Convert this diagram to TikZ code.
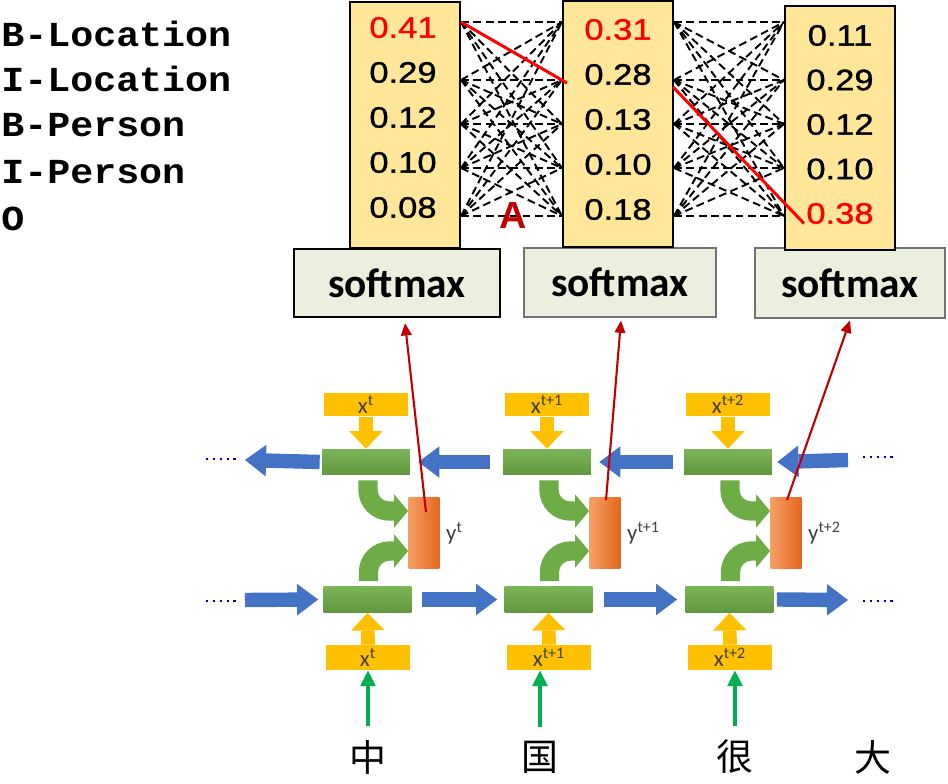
\documentclass[tikz,border=0pt]{standalone}
\usepackage{fontspec}
\setmainfont{Liberation Sans}
\newfontfamily\tagfont[FakeStretch=1.09]{Liberation Mono}
\newfontfamily\numfont[FakeStretch=1.17, FakeBold=1.2]{Liberation Sans}
\newfontfamily\calfont{Carlito}
\newfontfamily\cjkfont{Noto Sans CJK SC}
\usetikzlibrary{
    arrows.meta,
    positioning,
    calc
}

\definecolor{probfill}{HTML}{FFE699}
\definecolor{smfill}{HTML}{EBEFDE}
\definecolor{hotred}{HTML}{FF0000}
\definecolor{darkred}{HTML}{C00000}
\definecolor{inyellow}{HTML}{FFC000}
\definecolor{cellgreen}{HTML}{6EAC46}
\definecolor{flowblue}{HTML}{4472C4}
\definecolor{inputgreen}{HTML}{00B050}
\definecolor{outlight}{HTML}{F5A066}
\definecolor{outdark}{HTML}{E4661C}

\tikzset{
    tag/.style={anchor=west, inner sep=0pt, font=\tagfont\bfseries\fontsize{20}{22}\selectfont},
    val/.style={inner sep=0pt, font=\numfont\fontsize{16.8}{18}\selectfont},
    probbox/.style={draw, line width=1.2pt, fill=probfill, inner sep=0pt, minimum width=2.2cm},
    smbox/.style={fill=smfill, inner sep=0pt, font=\calfont\bfseries\fontsize{23.5}{26}\selectfont},
    dashline/.style={line width=1.1pt, dash pattern=on 4.5pt off 2.5pt},
    hotline/.style={draw=hotred, line width=1.7pt},
    xbox/.style={fill=inyellow, inner sep=0pt, minimum width=1.7cm, minimum height=0.47cm,
        text=black!75, font=\calfont\fontsize{13}{14}\selectfont},
    bar/.style={top color=cellgreen!90!white, bottom color=cellgreen!88!black,
        minimum width=1.76cm, minimum height=0.52cm, inner sep=0pt},
    outbox/.style={left color=outlight, right color=outdark,
        minimum width=0.62cm, minimum height=1.44cm, inner sep=0pt},
    ylab/.style={inner sep=0pt, text=black!75, font=\calfont\fontsize{13}{14}\selectfont},
    fatblue/.style={draw=flowblue, line width=8.2pt, -{Triangle[length=12pt, width=18pt, line width=0pt]}},
    fatyellow/.style={draw=inyellow, line width=7.8pt, -{Triangle[length=10pt, width=19pt, line width=0pt]}},
    bendgreen/.style={draw=cellgreen, line width=11pt, rounded corners=12pt,
        -{Triangle[length=8pt, width=19pt, line width=0pt]}},
    dots/.style={draw=blue!70!black, line width=1.3pt, dash pattern=on 1.3pt off 2.6pt},
    redarrow/.style={draw=darkred, line width=1.2pt, -{Triangle[length=7pt, width=6pt]}},
    inarrow/.style={draw=inputgreen, line width=1.8pt, -{Triangle[length=9pt, width=8.5pt]}},
    word/.style={inner sep=0pt, font=\cjkfont\fontsize{21}{22}\selectfont}
}

\begin{document}
\begin{tikzpicture}[x=0.02cm, y=-0.02cm]

\useasboundingbox (0,0) rectangle (948,784);

% Tags
\node[tag] (tag1) at (1,33.5) {B-Location};
\node[tag] (tag2) at (1,78.5) {I-Location};
\node[tag] (tag3) at (1,125) {B-Person};
\node[tag] (tag4) at (1,172) {I-Person};
\node[tag] (tag5) at (1,219) {O};

% Softmax layers
\node[smbox, draw, line width=1.3pt, minimum width=4.12cm, minimum height=1.36cm] (s1) at (397,283) {softmax};
\node[smbox, draw=black!55, line width=0.6pt, minimum width=3.84cm, minimum height=1.38cm] (s2) at (620,282.5) {softmax};
\node[smbox, draw=black!55, line width=0.6pt, minimum width=3.8cm, minimum height=1.4cm] (s3) at (850,283) {softmax};

% Score columns
\node[probbox, minimum height=4.92cm] (p1) at (405,125) {};
\node[probbox, minimum height=4.92cm] (p2) at (618,124) {};
\node[probbox, minimum height=4.88cm] (p3) at (840,128) {};

% Transitions
\foreach \r/\yy in {1/22,2/80,3/124,4/168,5/216} {
    \coordinate (a\r) at (p1.east |- 0,\yy);
    \coordinate (b\r) at (p2.west |- 0,\yy);
    \coordinate (c\r) at (p2.east |- 0,\yy);
    \coordinate (d\r) at (p3.west |- 0,\yy);
}
\foreach \i in {1,...,5}
    \foreach \j in {1,...,5} {
        \draw[dashline] (a\i) -- (b\j);
        \draw[dashline] (c\i) -- (d\j);
    }

% Scores
\foreach \v/\col [count=\i] in {0.41/hotred,0.29/black,0.12/black,0.10/black,0.08/black}
    \node[val, text=\col] (v1\i) at (403,{27.5+45*(\i-1)}) {\v};
\foreach \v/\col [count=\i] in {0.31/hotred,0.28/black,0.13/black,0.10/black,0.18/black}
    \node[val, text=\col] (v2\i) at (618,{29.5+45*(\i-1)}) {\v};
\foreach \v/\col [count=\i] in {0.11/black,0.29/black,0.12/black,0.10/black,0.38/hotred}
    \node[val, text=\col] (v3\i) at (840,{35.5+44.5*(\i-1)}) {\v};

% Best path
\draw[hotline] (a1) -- ([shift={(5,3)}]b2);
\draw[hotline] ([shift={(-1,7)}]c2) -- ([shift={(-2,10)}]v35.west);
\node[inner sep=0pt, text=darkred, font=\bfseries\fontsize{21.5}{22}\selectfont] (mark) at (513,216) {A};

% BiLSTM cells
\foreach \c/\cx/\tsup in {1/366/t,2/547/t+1,3/728/t+2} {
    \node[xbox] (xt\c) at (\cx,404.5) {x\textsuperscript{\tsup}};
    \node[bar] (ht\c) at (\cx,462) {};
    \node[bar] (hb\c) at (\cx+1.5,599.5) {};
    \node[xbox, minimum height=0.5cm] (xb\c) at (\cx+2,657.5) {x\textsuperscript{\tsup}};
    \node[outbox] (y\c) at (\cx+58,533) {};
    \node[ylab, right=0.12cm of y\c] (yl\c) {y\textsuperscript{\tsup}};
    \draw[fatyellow] (xt\c.south) -- (ht\c.north);
    \draw[fatyellow] (xb\c.north) -- (hb\c.south);
    \draw[bendgreen] ([shift={(2,5)}]ht\c.south) |- ($(y\c.west)+(0,-22)$);
    \draw[bendgreen] ([shift={(1,-5)}]hb\c.north) |- ($(y\c.west)+(0,18)$);
}

% Backward / forward states
\coordinate (bl1) at (245,460);
\coordinate (br1) at (848,460);
\coordinate (bl2) at (245,600);
\coordinate (br2) at (848,600);
\draw[fatblue] ([shift={(-2,0)}]ht1.west) -- (bl1);
\draw[fatblue] ([shift={(-13,0)}]ht2.west) -- ([shift={(8,0)}]ht1.east);
\draw[fatblue] ([shift={(-11,0)}]ht3.west) -- ([shift={(8,0)}]ht2.east);
\draw[fatblue] (br1) -- ([shift={(5,0)}]ht3.east);
\draw[fatblue] (bl2) -- ([shift={(-5,0)}]hb1.west);
\draw[fatblue] ([shift={(10,0)}]hb1.east) -- ([shift={(-7,0)}]hb2.west);
\draw[fatblue] ([shift={(11,0)}]hb2.east) -- ([shift={(-8,0)}]hb3.west);
\draw[fatblue] ([shift={(3,0)}]hb3.east) -- (br2);
\draw[dots] (206,459) -- (236,459);
\draw[dots] (863,457) -- (895,457);
\draw[dots] (206,601) -- (236,601);
\draw[dots] (863,601) -- (895,601);

% Outputs to softmax
\draw[redarrow] ([shift={(2,-21)}]y1.center) -- ([shift={(8,5)}]s1.south);
\draw[redarrow] ([shift={(1,-33)}]y2.center) -- ([shift={(1,3)}]s2.south);
\draw[redarrow] ([shift={(1,-33)}]y3.center) -- ([shift={(0,2)}]s3.south);

% Words
\node[word] (w1) at (368,757) {中};
\node[word] (w2) at (540,757) {国};
\node[word] (w3) at (735,757) {很};
\node[word] (w4) at (873,757) {大};
\foreach \c in {1,2,3}
    \draw[inarrow] ([shift={(0,-14)}]w\c.north) -- (w\c.north |- xb\c.south);

\end{tikzpicture}
\end{document}
